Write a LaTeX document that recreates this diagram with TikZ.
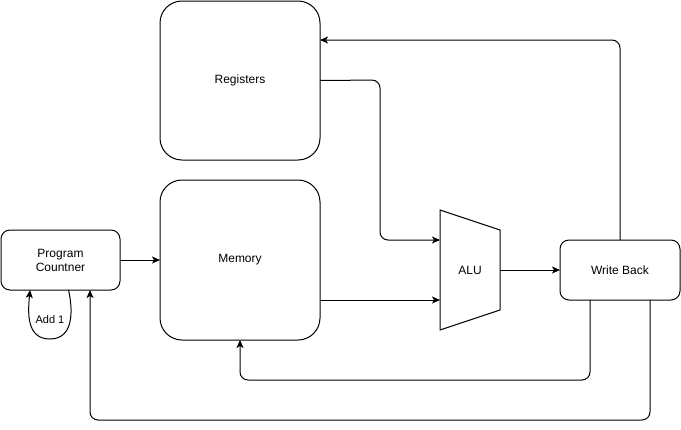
\documentclass[tikz,border=0pt]{standalone}
\usepackage{fontspec}
\setmainfont{Liberation Sans}
\usetikzlibrary{arrows.meta}
\begin{document}
\begin{tikzpicture}[x=1pt,y=-1pt,line width=1pt,
  box/.style={draw,inner sep=0pt,outer sep=0pt,align=center,font=\fontsize{12}{14}\selectfont},
  arr/.style={-{Stealth[length=8pt,width=7pt,inset=2pt]},rounded corners=8pt}]
\useasboundingbox (0,0) rectangle (681,429);
\node[box,minimum width=160,minimum height=159,rounded corners=22] (reg) at (240,80.5) {Registers};
\node[box,minimum width=160,minimum height=160,rounded corners=22] (mem) at (240,260) {Memory};
\node[box,minimum width=119,minimum height=60,rounded corners=9] (pc) at (60.5,260) {Program\\Countner};
\node[box,minimum width=120,minimum height=60,rounded corners=9] (wb) at (620,270) {Write Back};
\node[inner sep=0pt,outer sep=0pt,minimum width=60,minimum height=120,font=\fontsize{12}{14}\selectfont] (alu) at (470,270) {ALU};
\draw (alu.north west) -- ([yshift=-20pt]alu.north east) -- ([yshift=20pt]alu.south east) -- (alu.south west) -- cycle;
\node[font=\fontsize{11}{13}\selectfont,inner sep=0pt] (add) at (50,320) {Add 1};
\draw[arr] (pc.east) -- (mem.west);
\draw[arr] (reg.east) -- (380,80) -- (380,240) -- (alu.west |- 0,240);
\draw[arr] ([yshift=-40pt]mem.east) -- (alu.west |- 0,300);
\draw[arr] (alu.east) -- (wb.west);
\draw[arr] (wb.north) -- (620,40) -- (reg.east |- 0,40);
\draw[arr] ([xshift=-30pt]wb.south) -- (590,380) -- (240,380) -- (mem.south);
\draw[arr] ([xshift=30pt]wb.south) -- (650,420) -- (90,420) -- ([xshift=29.5pt]pc.south);
\draw[-{Stealth[length=8pt,width=7pt,inset=2pt]}] ([xshift=8pt]pc.south) .. controls (72,305) and (76,339) .. (50,339) .. controls (26,339) and (28,312) .. ([xshift=-30.5pt]pc.south);
\end{tikzpicture}
\end{document}
